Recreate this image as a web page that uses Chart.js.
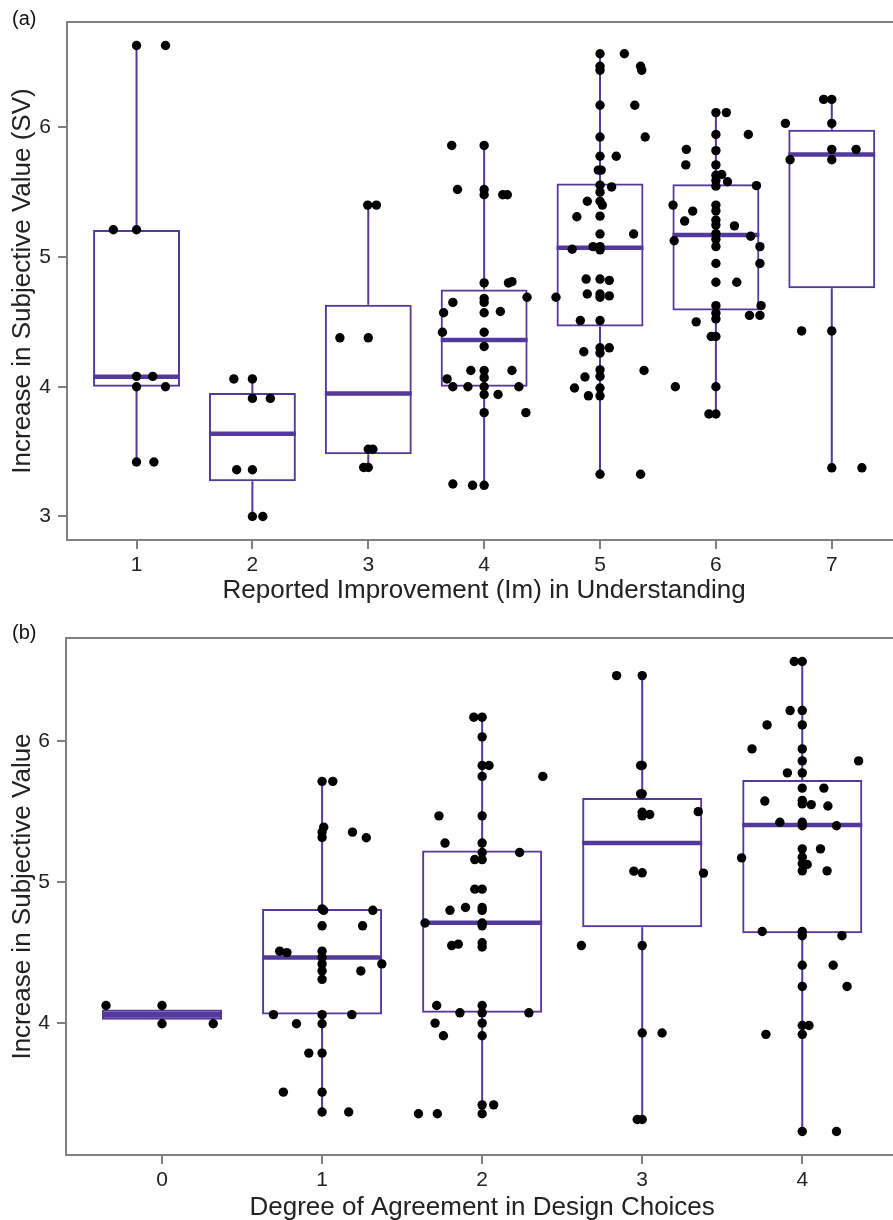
<!DOCTYPE html>
<html>
<head>
<meta charset="utf-8">
<script src="https://cdn.jsdelivr.net/npm/chart.js@4.4.1/dist/chart.umd.min.js"></script>
<style>
html,body{margin:0;padding:0;width:893px;height:1220px;overflow:hidden;background:#fff;}
#wrapA{position:absolute;left:0;top:0;}
#wrapB{position:absolute;left:0;top:612px;}
.lbl{position:absolute;left:12px;font:20px "Liberation Sans",Arial,sans-serif;color:#111;line-height:20px;}
</style>
</head>
<body>
<div id="wrapA"><canvas id="ca" width="906" height="612" style="width:906px;height:612px"></canvas></div>
<div id="wrapB"><canvas id="cb" width="903" height="620" style="width:903px;height:620px"></canvas></div>
<div class="lbl" style="top:8px">(a)</div>
<div class="lbl" style="top:622px">(b)</div>
<script>
// ---------- Panel (a): Reported Improvement (Im) in Understanding ----------
const catsA = [1, 2, 3, 4, 5, 6, 7];
const xTicksA = [1, 2, 3, 4, 5, 6, 7];
const yTicksA = [3, 4, 5, 6];
const q1A  = [4.0, 3.272, 3.479, 4.0, 4.465, 4.587, 4.76];
const medA = [4.077, 3.638, 3.948, 4.36, 5.072, 5.17, 5.79];
const q3A  = [5.208, 3.951, 4.631, 4.75, 5.567, 5.56, 5.98];
const loA  = [3.423, 3.0, 3.377, 3.24, 3.325, 3.79, 3.375];
const hiA  = [6.628, 4.064, 5.40, 5.86, 6.567, 6.113, 6.215];
const pointsA = [
  [1.0,6.63],[1.25,6.63],[0.80,5.21],[1.0,5.21],[1.0,4.08],[1.14,4.08],[1.0,4.0],[1.25,4.0],[1.0,3.42],[1.15,3.42],
  [1.84,4.06],[2.0,4.06],[2.0,3.91],[2.155,3.91],[1.864,3.36],[2.0,3.36],[2.0,3.0],[2.09,3.0],
  [2.995,5.40],[3.07,5.40],[2.755,4.377],[3.0,4.377],[3.0,3.518],[3.04,3.518],[2.96,3.377],[3.0,3.377],
  [3.72,5.86],[4.0,5.86],[3.77,5.52],[4.0,5.52],[4.0,5.48],[4.16,5.48],[4.20,5.48],
  [4.0,4.80],[4.21,4.80],[4.24,4.81],[3.73,4.65],[4.0,4.68],[4.0,4.65],[4.37,4.69],
  [3.65,4.57],[4.0,4.57],[4.14,4.58],[3.64,4.42],[4.0,4.42],[4.0,4.31],
  [3.885,4.125],[4.0,4.125],[4.24,4.125],[4.0,4.07],[3.68,4.06],
  [3.73,4.0],[3.86,4.0],[4.0,4.0],[4.30,4.0],[4.0,3.94],[4.12,3.94],[4.0,3.80],[4.36,3.80],
  [3.73,3.25],[3.90,3.24],[4.0,3.24],
  [5.0,6.567],[5.21,6.567],[5.0,6.47],[5.0,6.44],[5.35,6.47],[5.36,6.44],[5.0,6.17],[5.30,6.17],
  [5.0,5.925],[5.39,5.925],[5.0,5.777],[5.14,5.777],[4.985,5.67],[5.01,5.67],
  [5.0,5.554],[5.10,5.54],[5.0,5.50],[4.89,5.43],[5.0,5.43],[5.02,5.40],[4.80,5.31],[5.0,5.315],
  [5.0,5.177],[5.29,5.177],[4.76,5.06],[4.94,5.08],[5.0,5.08],[5.0,5.055],
  [4.88,4.83],[5.0,4.83],[5.08,4.82],[4.62,4.69],[4.89,4.715],[5.0,4.715],[5.0,4.69],[5.08,4.70],
  [4.83,4.51],[5.0,4.51],[5.0,4.30],[5.0,4.26],[5.08,4.30],[4.86,4.27],
  [5.0,4.13],[5.0,4.08],[5.38,4.125],[4.87,4.075],[4.78,3.99],[5.0,3.99],[4.90,3.93],[5.0,3.93],
  [5.0,3.325],[5.35,3.325],
  [6.0,6.113],[6.09,6.113],[6.0,5.944],[6.28,5.944],[5.745,5.83],[6.0,5.82],[5.74,5.71],[6.0,5.71],
  [6.0,5.63],[6.05,5.636],[6.0,5.59],[6.10,5.58],[6.0,5.546],[6.35,5.55],
  [5.63,5.40],[5.80,5.354],[6.0,5.40],[6.0,5.356],[5.73,5.277],[6.0,5.285],[6.0,5.246],[6.16,5.24],
  [6.0,5.18],[6.0,5.136],[6.0,5.08],[5.64,5.125],[6.30,5.16],[6.38,5.08],
  [6.0,4.95],[6.38,4.95],[6.0,4.805],[6.18,4.805],[6.0,4.625],[6.39,4.625],
  [6.0,4.567],[6.0,4.523],[6.29,4.55],[6.38,4.55],[5.83,4.50],[5.96,4.387],[6.0,4.387],
  [5.65,4.0],[6.0,4.0],[5.94,3.79],[6.0,3.79],
  [6.93,6.215],[7.0,6.215],[6.60,6.03],[7.0,6.03],[7.0,5.83],[7.21,5.83],[6.64,5.75],[7.0,5.75],
  [6.74,4.43],[7.0,4.43],[7.0,3.375],[7.26,3.375]
];

// ---------- Panel (b): Degree of Agreement in Design Choices ----------
const catsB = [0, 1, 2, 3, 4];
const xTicksB = [0, 1, 2, 3, 4];
const yTicksB = [4, 5, 6];
const q1B  = [4.023, 4.061, 4.073, 4.68, 4.638];
const medB = [4.06, 4.466, 4.711, 5.277, 5.406];
const q3B  = [4.096, 4.81, 5.224, 5.596, 5.725];
const loB  = [3.995, 3.369, 3.357, 3.316, 3.231];
const hiB  = [4.125, 5.715, 6.17, 6.465, 6.565];
const filledB = [true, false, false, false, false];
const pointsB = [
  [-0.35,4.125],[0.0,4.125],[0.0,3.995],[0.32,3.995],
  [1.0,5.715],[1.067,5.715],[1.01,5.39],[1.0,5.355],[1.0,5.317],[1.19,5.355],[1.276,5.315],
  [1.0,4.81],[1.01,4.80],[1.317,4.80],[1.0,4.69],[1.253,4.69],
  [0.735,4.51],[0.78,4.50],[1.0,4.51],[1.0,4.466],[1.0,4.42],[1.373,4.42],[1.0,4.37],[1.242,4.37],[1.0,4.31],
  [0.696,4.06],[1.0,4.06],[1.186,4.06],[0.84,3.995],[1.0,3.995],
  [0.917,3.787],[1.0,3.787],[0.758,3.51],[1.0,3.51],[1.0,3.369],[1.166,3.369],
  [1.948,6.17],[2.0,6.17],[2.0,6.03],[2.0,5.827],[2.043,5.827],[2.0,5.75],[2.379,5.75],
  [1.73,5.47],[2.0,5.47],[1.768,5.277],[2.0,5.277],[2.234,5.21],[2.0,5.21],[1.954,5.16],[2.0,5.16],
  [1.954,4.95],[2.0,4.95],[1.896,4.82],[1.799,4.80],[2.0,4.82],[2.0,4.80],
  [1.643,4.71],[2.0,4.71],[2.0,4.69],[1.81,4.55],[1.851,4.56],[2.0,4.57],[2.0,4.54],
  [1.716,4.125],[2.0,4.125],[1.861,4.073],[2.0,4.073],[2.292,4.073],
  [1.706,4.0],[2.0,4.0],[1.758,3.91],[2.0,3.91],[2.0,3.42],[2.072,3.42],
  [1.602,3.357],[1.72,3.357],[2.0,3.357],
  [2.84,6.465],[3.0,6.465],[2.99,5.827],[3.0,5.827],[3.0,5.626],[2.99,5.626],
  [3.0,5.496],[3.047,5.48],[3.0,5.47],[3.35,5.50],[2.948,5.078],[3.0,5.066],[3.383,5.064],
  [2.62,4.55],[3.0,4.55],[3.0,3.93],[3.124,3.93],[2.969,3.316],[3.0,3.316],
  [3.95,6.565],[4.0,6.565],[3.924,6.217],[4.0,6.217],[3.78,6.115],[4.0,6.115],
  [3.686,5.945],[4.0,5.945],[4.0,5.86],[4.352,5.86],[3.907,5.775],[4.0,5.775],
  [4.0,5.667],[4.135,5.667],[3.766,5.575],[4.0,5.58],[4.0,5.555],[4.056,5.55],[4.16,5.54],
  [3.86,5.425],[4.0,5.425],[4.0,5.40],[4.214,5.40],[3.621,5.172],[4.0,5.236],[4.114,5.236],
  [4.0,5.177],[4.031,5.125],[4.0,5.13],[4.0,5.08],[4.155,5.08],
  [3.75,4.65],[4.0,4.65],[4.0,4.62],[4.248,4.62],[4.0,4.41],[4.193,4.41],[4.0,4.26],[4.28,4.26],
  [4.0,3.983],[4.042,3.983],[3.773,3.92],[4.0,3.92],[4.0,3.231],[4.214,3.231]
];

const PURPLE = '#55389b';
const AXIS = '#808080';
const TXT = '#222';
const FONT = "'Liberation Sans', Arial, Helvetica, sans-serif";

const frameTop = {
  id: 'frameTop',
  beforeDatasetsDraw(chart) {
    const a = chart.chartArea, c = chart.ctx;
    c.save();
    c.strokeStyle = AXIS; c.lineWidth = 2;
    c.beginPath(); c.moveTo(a.left - 1, a.top); c.lineTo(a.right, a.top); c.stroke();
    c.restore();
  }
};

function boxChart(id, o) {
  const BP = 0.75;          // box width as fraction of category spacing
  const hw = BP / 2;
  const boxData = o.cats.map((c, i) => ({x: c, y: [o.q1[i], o.q3[i]]}));
  const whisk = [];
  o.cats.forEach((c, i) => {
    whisk.push({x: c, y: o.lo[i]}, {x: c, y: o.q1[i]}, {x: c, y: null},
               {x: c, y: o.q3[i]}, {x: c, y: o.hi[i]}, {x: c, y: null});
  });
  const meds = [];
  o.cats.forEach((c, i) => {
    meds.push({x: c - hw, y: o.med[i]}, {x: c + hw, y: o.med[i]}, {x: c, y: null});
  });
  const pts = o.points.map(p => ({x: p[0], y: p[1]}));
  const fills = o.cats.map((c, i) => (o.filled && o.filled[i]) ? PURPLE : 'rgba(0,0,0,0)');
  const gridOpts = {display: true, offset: false, drawOnChartArea: false, drawTicks: true, tickLength: 9,
                    tickColor: AXIS, tickWidth: 2, color: AXIS, lineWidth: 2};
  return new Chart(document.getElementById(id), {
    type: 'bar',
    data: {datasets: [
      {type: 'scatter', data: pts, pointRadius: 4.7, pointHoverRadius: 4.7, backgroundColor: '#000',
       borderWidth: 0, pointBorderWidth: 0, order: 0},
      {type: 'scatter', data: meds, showLine: true, spanGaps: false, pointRadius: 0, pointHoverRadius: 0,
       borderColor: PURPLE, borderWidth: 4.5, borderCapStyle: 'butt', order: 1},
      {type: 'scatter', data: whisk, showLine: true, spanGaps: false, pointRadius: 0, pointHoverRadius: 0,
       borderColor: PURPLE, borderWidth: 2, borderCapStyle: 'butt', order: 2},
      {type: 'bar', data: boxData, backgroundColor: fills, borderColor: PURPLE, borderWidth: 2,
       borderSkipped: false, barPercentage: BP, categoryPercentage: 1, order: 3}
    ]},
    options: {
      responsive: false, animation: false, devicePixelRatio: 1,
      layout: {padding: {top: o.padTop, left: 0, right: 0, bottom: 0}},
      plugins: {legend: {display: false}, tooltip: {enabled: false}},
      events: [],
      scales: {
        x: {
          type: 'linear', min: o.xmin, max: o.xmax, offset: false,
          afterBuildTicks: s => { s.ticks = o.xTicks.map(v => ({value: v})); },
          afterFit: s => { s.height = o.xAxisH; },
          ticks: {font: {family: FONT, size: 21}, color: TXT, padding: 4, maxRotation: 0, autoSkip: false},
          grid: gridOpts,
          border: {display: true, color: AXIS, width: 2},
          title: {display: true, text: o.xTitle, color: TXT, font: {family: FONT, size: 26},
                  padding: {top: 0, bottom: o.xTitlePad}}
        },
        y: {
          type: 'linear', min: o.ymin, max: o.ymax,
          afterBuildTicks: s => { s.ticks = o.yTicks.map(v => ({value: v})); },
          afterFit: s => { s.width = o.yAxisW; },
          ticks: {font: {family: FONT, size: 21}, color: TXT, padding: 7},
          grid: gridOpts,
          border: {display: true, color: AXIS, width: 2},
          title: {display: true, text: o.yTitle, color: TXT, font: {family: FONT, size: 26},
                  padding: {top: 7, bottom: 0}}
        }
      }
    },
    plugins: [frameTop]
  });
}

boxChart('ca', {
  cats: catsA, q1: q1A, med: medA, q3: q3A, lo: loA, hi: hiA, points: pointsA,
  xTicks: xTicksA, yTicks: yTicksA,
  xmin: 0.4, xmax: 7.6, ymin: 2.8185, ymax: 6.8115,
  padTop: 22, xAxisH: 72, yAxisW: 67, xTitlePad: 6,
  xTitle: 'Reported Improvement (Im) in Understanding',
  yTitle: 'Increase in Subjective Value (SV)'
});

boxChart('cb', {
  cats: catsB, q1: q1B, med: medB, q3: q3B, lo: loB, hi: hiB, points: pointsB, filled: filledB,
  xTicks: xTicksB, yTicks: yTicksB,
  xmin: -0.6, xmax: 4.6, ymin: 3.0643, ymax: 6.7317,
  padTop: 26, xAxisH: 77, yAxisW: 66, xTitlePad: 9,
  xTitle: 'Degree of Agreement in Design Choices',
  yTitle: 'Increase in Subjective Value'
});
</script>
</body>
</html>
